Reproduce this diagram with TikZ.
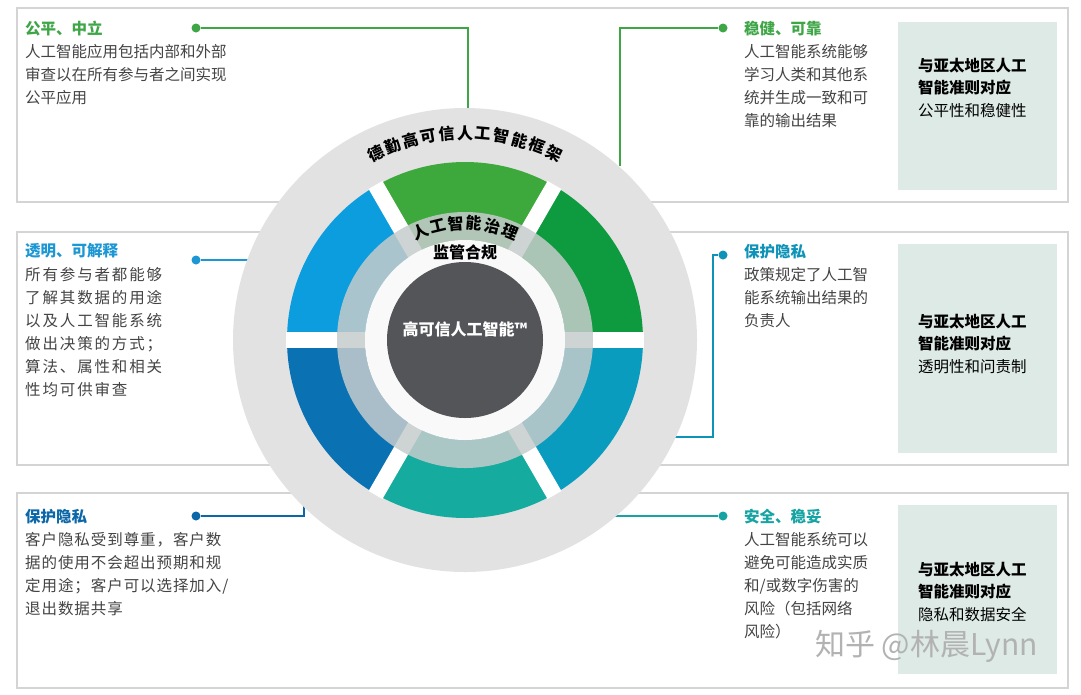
\documentclass[tikz,border=0pt]{standalone}
\usepackage{fontspec}
\setmainfont{Noto Sans CJK SC}
\definecolor{frame}{HTML}{D4D4D4}
\definecolor{pale}{HTML}{DDEAE5}
\definecolor{txt}{HTML}{444444}
\definecolor{gA}{HTML}{3DA83B}
\definecolor{gB}{HTML}{0E9A3F}
\definecolor{bA}{HTML}{0B9DDD}
\definecolor{bB}{HTML}{0A71B3}
\definecolor{tA}{HTML}{15AB9F}
\definecolor{tB}{HTML}{0A9CBE}
\definecolor{ring}{HTML}{E2E2E2}
\definecolor{midring}{HTML}{C6CCCC}
\definecolor{dark}{HTML}{545559}
\definecolor{tiG}{HTML}{3FA648}
\definecolor{tiB}{HTML}{1C97D4}
\definecolor{tiD}{HTML}{0B67A8}
\definecolor{tiT}{HTML}{0E93B8}
\definecolor{tiS}{HTML}{15A3A3}
\begin{document}
\begin{tikzpicture}[x=1pt,y=-1pt,
  box/.style={draw=frame,line width=1.2pt,fill=white},
  palebox/.style={fill=pale},
  body/.style={anchor=north west,align=left,inner sep=0,text=txt,font=\fontsize{15.5}{23}\selectfont},
  ttl/.style={anchor=north west,inner sep=0,font=\fontsize{15.5}{23}\selectfont\bfseries},
  dot/.style={circle,inner sep=0,minimum size=9pt},
  con/.style={line width=1.3pt},
  pbt/.style={anchor=north west,align=left,inner sep=0,font=\fontsize{15.5}{22.5}\selectfont},
  arcc/.style={inner sep=0,font=\fontsize{16}{18}\selectfont\bfseries}]
\useasboundingbox (0,0) rectangle (1081,694);
\fill[white] (0,0) rectangle (1081,694);
% row frames
\draw[box] (17,8) rectangle (1068,202);
\draw[box] (17,232) rectangle (1068,465);
\draw[box] (17,493) rectangle (1068,688);
\fill[palebox] (898,22) rectangle (1057,190);
\fill[palebox] (898,244) rectangle (1057,453);
\fill[palebox] (898,505) rectangle (1057,674);
% connectors
\node[dot,fill=tiG] (d1) at (196,28) {};
\coordinate (e1) at (468,110);
\draw[con,tiG] (d1) -- (468,28) -- (e1);
\node[dot,fill=tiG] (d2) at (723,28) {};
\coordinate (e2) at (620,166);
\draw[con,tiG] (d2) -- (620,28) -- (e2);
\node[dot,fill=tiB] (d3) at (196,260) {};
\coordinate (e3) at (248,260);
\draw[con,tiB] (d3) -- (e3);
\node[dot,fill=tiD] (d4) at (196,516) {};
\coordinate (e4) at (304,500);
\draw[con,tiD] (d4) -- (304,516) -- (e4);
\node[dot,fill=tiT] (d5) at (723,255) {};
\coordinate (e5) at (670,437);
\draw[con,tiT] (d5) -- (713,255) -- (713,437) -- (e5);
\node[dot,fill=tiS] (d6) at (723,516) {};
\coordinate (e6) at (614,516);
\draw[con,tiS] (d6) -- (e6);
% wheel
\begin{scope}[shift={(465,340)},yscale=-1]
\fill[ring] (0,0) circle (232);
\foreach \c/\col in {30/gB,90/gA,150/bA,210/bB,270/tA,330/tB}{
  \fill[\col] (\c-30:100) arc (\c-30:\c+30:100) -- (\c+30:178) arc (\c+30:\c-30:178) -- cycle;
}
\foreach \a in {0,60,...,300}{ \draw[white,line width=16pt] (\a:92) -- (\a:179); }
\fill[even odd rule,fill=midring,opacity=0.85] (0,0) circle (128) (0,0) circle (100);
\fill[white!95!gray] (0,0) circle (100);
\fill[dark] (0,0) circle (78);
\foreach \ch [count=\i from 0] in {德,勤,高,可,信,人,工,智,能,框,架}{
  \pgfmathsetmacro\ang{115.5-5.1*\i}
  \node[arcc,rotate=\ang-90] (o\i) at (\ang:207) {\ch};
}
\foreach \ch [count=\i from 0] in {人,工,智,能,治,理}{
  \pgfmathsetmacro\ang{112.5-9*\i}
  \node[arcc,rotate=\ang-90] (m\i) at (\ang:117) {\ch};
}
\node[arcc] (jg) at (0,88) {监管合规};
\node[arcc,text=white] (core) at (0,11) {高可信人工智能™};
\end{scope}
% texts
\node[ttl,text=tiG] (t1) at (25,21) {公平、中立};
\node[body] (b1) at (25,44) {人工智能应用包括内部和外部\\审查以在所有参与者之间实现\\公平应用};
\node[ttl,text=tiB] (t3) at (25,243) {透明、可解释};
\node[body,font=\fontsize{15.5}{23}\selectfont\addfontfeatures{LetterSpace=12}] (b3) at (25,267) {所有参与者都能够\\了解其数据的用途\\以及人工智能系统\\做出决策的方式；\\算法、属性和相关\\性均可供审查};
\node[ttl,text=tiD] (t4) at (25,509) {保护隐私};
\node[body,font=\fontsize{15.5}{23}\selectfont\addfontfeatures{LetterSpace=6}] (b4) at (25,532) {客户隐私受到尊重，客户数\\据的使用不会超出预期和规\\定用途；客户可以选择加入/\\退出数据共享};
\node[ttl,text=tiG] (t2) at (744,21) {稳健、可靠};
\node[body] (b2) at (744,44) {人工智能系统能够\\学习人类和其他系\\统并生成一致和可\\靠的输出结果};
\node[ttl,text=tiT] (t5) at (744,244) {保护隐私};
\node[body] (b5) at (744,267) {政策规定了人工智\\能系统输出结果的\\负责人};
\node[ttl,text=tiS] (t6) at (744,509) {安全、稳妥};
\node[body] (b6) at (744,532) {人工智能系统可以\\避免可能造成实质\\和/或数字伤害的\\风险（包括网络\\风险）};
\node[pbt] (p1) at (918,58) {\textbf{与亚太地区人工}\\\textbf{智能准则对应}\\公平性和稳健性};
\node[pbt] (p2) at (918,314) {\textbf{与亚太地区人工}\\\textbf{智能准则对应}\\透明性和问责制};
\node[pbt] (p3) at (918,562) {\textbf{与亚太地区人工}\\\textbf{智能准则对应}\\隐私和数据安全};
\node[anchor=west,inner sep=0,text=gray!60,font=\fontsize{30}{32}\selectfont] (wm) at (815,646) {知乎 @林晨Lynn};
\end{tikzpicture}
\end{document}
